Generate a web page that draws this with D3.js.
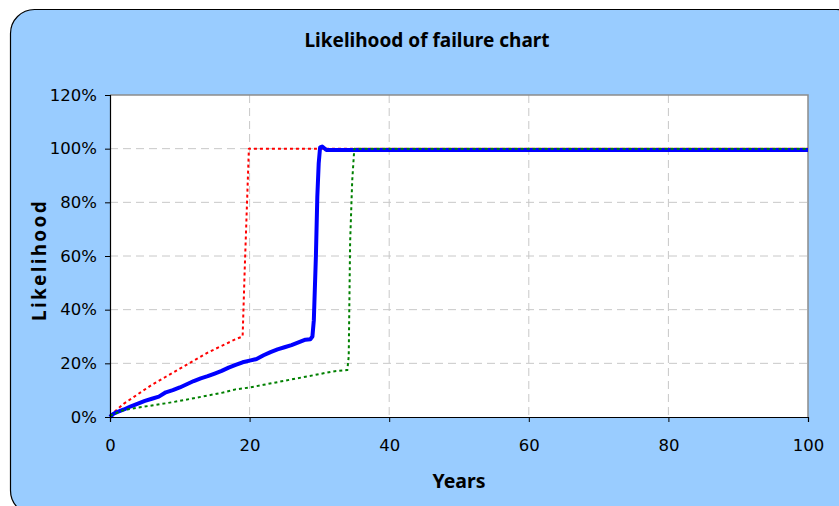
<!DOCTYPE html>
<html>
<head>
<meta charset="utf-8">
<script src="https://cdn.jsdelivr.net/npm/d3@7"></script>
<style>
  html, body { margin: 0; padding: 0; background: #ffffff; }
  svg { display: block; }
  text { font-family: "Noto Sans", "DejaVu Sans", sans-serif; fill: #000; }
</style>
</head>
<body>
<svg id="chart" width="839" height="506"></svg>
<script>
// Cumulative likelihood of failure (percent) by year
const xTicks = [0, 20, 40, 60, 80, 100];
const yTicks = [0, 20, 40, 60, 80, 100, 120];

const expectedYears = [0, 0.5, 1, 2, 3, 4, 5, 6, 7, 8, 9, 10, 11, 12, 13, 14, 15, 16, 17, 18, 19, 20, 21, 22, 23, 24, 25, 26, 27, 28, 28.7, 29.0, 29.2, 29.5, 29.7, 29.9, 30.1, 30.4, 31, 100];
const expectedPct = [0, 1.2, 1.8, 2.8, 4, 5, 6, 6.8, 7.6, 9.2, 10, 11, 12.2, 13.4, 14.4, 15.2, 16.2, 17.2, 18.4, 19.4, 20.4, 21, 21.6, 23, 24.2, 25.2, 26, 26.8, 27.8, 28.8, 29, 30, 36, 60, 82, 94.5, 100.5, 100.8, 99.5, 99.5];

const pessimisticYears = [0, 2, 4, 6, 8, 10, 12, 14, 16, 18, 19, 19.3, 19.9, 100];
const pessimisticPct = [0.5, 5, 8.5, 12, 15, 18, 21, 24, 26.5, 29, 30, 55, 100, 100];

const optimisticYears = [0, 2, 4, 6, 8, 10, 12, 14, 16, 18, 20, 22, 24, 26, 28, 30, 32, 34, 34.2, 34.4, 34.7, 35.0, 100];
const optimisticPct = [0.5, 2.6, 3.5, 4.3, 5.1, 6, 7, 8, 9, 10.3, 11, 12, 13, 14, 15, 16, 17, 17.5, 22.5, 65, 88, 100, 100];

const series = [
  { name: "pessimistic", years: pessimisticYears, pct: pessimisticPct, color: "#ff0000", width: 2, dash: "3,3" },
  { name: "expected", years: expectedYears, pct: expectedPct, color: "#0000ff", width: 4, dash: null },
  { name: "optimistic", years: optimisticYears, pct: optimisticPct, color: "#008000", width: 2, dash: "3,3" }
];

const svg = d3.select("#chart");

// rounded panel (runs past the right and bottom edges)
svg.append("rect")
  .attr("x", 10.5).attr("y", 9.5)
  .attr("width", 850).attr("height", 505)
  .attr("rx", 24).attr("ry", 24)
  .attr("fill", "#99ccff")
  .attr("stroke", "#000").attr("stroke-width", 1.2);

const plot = { left: 110, right: 808, top: 95, bottom: 417 };

const x = d3.scaleLinear().domain([0, 100]).range([plot.left, plot.right]);
const y = d3.scaleLinear().domain([0, 120]).range([plot.bottom, plot.top]);

svg.append("rect")
  .attr("x", plot.left).attr("y", plot.top)
  .attr("width", plot.right - plot.left).attr("height", plot.bottom - plot.top)
  .attr("fill", "#ffffff");

// grid
const grid = svg.append("g");
grid.selectAll("line.h").data(yTicks.filter(d => d > 0 && d < 120)).join("line")
  .attr("x1", plot.left).attr("x2", plot.right)
  .attr("y1", d => y(d)).attr("y2", d => y(d))
  .attr("stroke", "#c8c8c8").attr("stroke-width", 1).attr("stroke-dasharray", "8,5");
grid.selectAll("line.v").data(xTicks.filter(d => d > 0 && d < 100)).join("line")
  .attr("y1", plot.top).attr("y2", plot.bottom)
  .attr("x1", d => x(d)).attr("x2", d => x(d))
  .attr("stroke", "#c8c8c8").attr("stroke-width", 1).attr("stroke-dasharray", "8,5");

// plot frame (top and right)
svg.append("path")
  .attr("d", `M${plot.left},${plot.top}H${plot.right}V${plot.bottom}`)
  .attr("fill", "none").attr("stroke", "#8c8c8c").attr("stroke-width", 1.5);

// lines
const line = d3.line().x(d => x(d[0])).y(d => y(d[1]));
series.forEach(s => {
  const pts = s.years.map((yr, i) => [yr, s.pct[i]]);
  svg.append("path")
    .datum(pts)
    .attr("d", line)
    .attr("fill", "none")
    .attr("stroke", s.color)
    .attr("stroke-width", s.width)
    .attr("stroke-linejoin", "round")
    .attr("stroke-dasharray", s.dash);
});

// axes
const yAxis = svg.append("g")
  .attr("transform", `translate(${plot.left},0)`)
  .call(d3.axisLeft(y).tickValues(yTicks).tickFormat(d => d + "%").tickSizeOuter(0).tickSize(5).tickPadding(8));
const xAxis = svg.append("g")
  .attr("transform", `translate(0,${plot.bottom})`)
  .call(d3.axisBottom(x).tickValues(xTicks).tickSizeOuter(0).tickSize(5).tickPadding(17));
[yAxis, xAxis].forEach(a => {
  a.select(".domain").attr("stroke", "#000").attr("stroke-width", 1.2);
  a.selectAll(".tick line").attr("stroke", "#000");
  a.selectAll("text")
    .style("font-family", "'DejaVu Sans', sans-serif")
    .style("font-size", "16.5px").attr("fill", "#000");
});

// titles
svg.append("text")
  .attr("x", 427).attr("y", 47)
  .attr("text-anchor", "middle")
  .style("font-size", "19px").style("font-weight", "bold")
  .text("Likelihood of failure chart");

svg.append("text")
  .attr("x", 459).attr("y", 488)
  .attr("text-anchor", "middle")
  .style("font-size", "19.5px").style("font-weight", "bold")
  .text("Years");

svg.append("text")
  .attr("transform", "translate(46,260) rotate(-90)")
  .attr("text-anchor", "middle")
  .style("font-size", "19px").style("font-weight", "bold")
  .style("letter-spacing", "2.3px")
  .text("Likelihood");
</script>
</body>
</html>
